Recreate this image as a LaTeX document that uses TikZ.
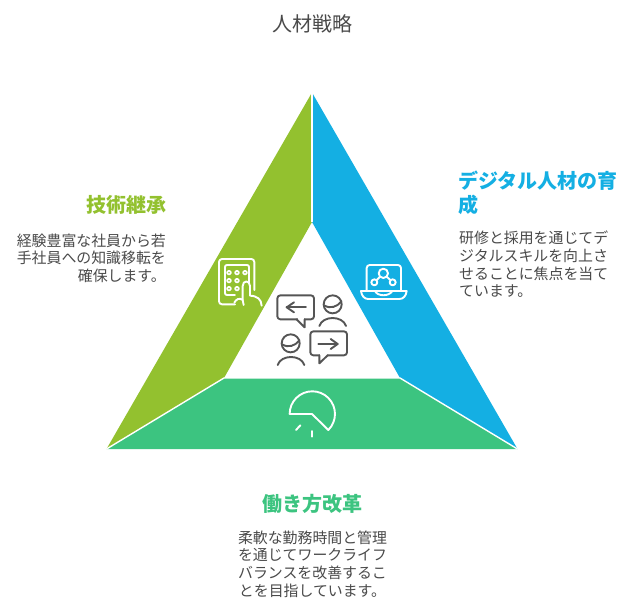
\documentclass[tikz,border=0pt]{standalone}
\usepackage{fontspec}
\setmainfont{Noto Sans CJK JP}
\definecolor{cblue}{HTML}{14AFE3}
\definecolor{cgreen}{HTML}{3CC480}
\definecolor{colive}{HTML}{93C12F}
\definecolor{ctext}{HTML}{4A4A4A}
\definecolor{cicon}{HTML}{555555}
\tikzset{
  facet/.style={draw=white,line width=1.4pt,line cap=butt},
  heading/.style={font=\fontsize{20}{24}\selectfont\bfseries,inner sep=0pt},
  bodytext/.style={font=\fontsize{14.9}{17.7}\selectfont,text=ctext,inner sep=0pt},
  whiteicon/.style={draw=white,line width=1.9pt,line cap=round,line join=round},
  greyicon/.style={draw=cicon,line width=1.9pt,line cap=round,line join=round},
  zoomed/.style={shift={(200,240)},x=0.33333pt,y=-0.33333pt}
}
\begin{document}
\begin{tikzpicture}[x=1pt,y=-1pt]
\useasboundingbox (0,0) rectangle (636,612);
\fill[white] (0,0) rectangle (636,612);
\fill[cgreen] (106.5,449) -- (224,378) -- (400,378) -- (517.5,449) -- cycle;
\fill[cblue] (312,92.5) -- (517.5,449) -- (400,378) -- (312,222) -- cycle;
\fill[colive] (312,92.5) -- (312,222) -- (224,378) -- (106.5,449) -- cycle;
\draw[facet] (312,92.5) -- (312,222);
\draw[facet] (106.5,449) -- (224,378) -- (400,378) -- (517.5,449);

\node[font=\fontsize{20}{24}\selectfont,text=ctext,inner sep=0pt] (title) at (312.5,24) {人材戦略};

\node[heading,text=colive,anchor=east] (h1) at (166.5,205) {技術継承};
\node[bodytext,align=right,anchor=north east] (b1) at (166,233.5) {経験豊富な社員から若\\手社員への知識移転を\\確保します。};

\node[heading,text=cblue,align=left,anchor=north west,font=\fontsize{20}{24}\selectfont\bfseries] (h2) at (458,171) {デジタル人材の育\\成};
\node[bodytext,align=left,anchor=north west] (b2) at (459,231) {研修と採用を通じてデ\\ジタルスキルを向上さ\\せることに焦点を当て\\ています。};

\node[heading,text=cgreen] (h3) at (312.5,504) {働き方改革};
\node[bodytext,align=center,anchor=north] (b3) at (312.5,530.5) {柔軟な勤務時間と管理\\を通じてワークライフ\\バランスを改善するこ\\とを目指しています。};

\begin{scope}[zoomed]
% tablet and hand
\draw[whiteicon,rounded corners=3pt] (105,193) -- (57,193) -- (57,57) -- (163,57) -- (163,150);
\draw[whiteicon,rounded corners=2pt] (105,165) -- (75,165) -- (75,75) -- (147,75) -- (147,128);
\foreach \px/\py in {87/98,111/98,135/98,87/122,111/122,87/146,111/146}
  \draw[whiteicon,line width=1.7pt,rounded corners=1pt] (\px-5,\py-5) rectangle (\px+5,\py+5);
\draw[whiteicon] (103,188) .. controls (108,178) and (118,172) .. (128,180) -- (128,138)
  .. controls (128,120) and (150,120) .. (150,138) -- (150,167)
  .. controls (172,168) and (184,178) .. (185,197);
\draw[whiteicon] (128,180) -- (131,195);
% laptop
\draw[whiteicon,rounded corners=3pt] (500,150) -- (500,75) -- (603,75) -- (603,150);
\draw[whiteicon] (483,153) -- (620,153) .. controls (618,168) and (610,177) .. (598,177) -- (505,177) .. controls (493,177) and (485,168) .. (483,153) -- cycle;
\draw[whiteicon] (525,153) .. controls (533,170) and (567,170) .. (577,153);
\draw[whiteicon] (550,100) circle[radius=14];
\draw[whiteicon] (523,127) circle[radius=9];
\draw[whiteicon] (578,127) circle[radius=9];
\draw[whiteicon] (540,110) -- (530,120);
\draw[whiteicon] (560,110) -- (571,120);
% people and speech bubbles
\draw[greyicon,rounded corners=3pt] (232,166) rectangle (342,238);
\draw[draw=white,line width=2.4pt,line cap=butt] (293,238) -- (312,238);
\draw[greyicon] (290,238) -- (314,262) -- (314,238);
\draw[greyicon] (318,202) -- (260,202);
\draw[greyicon] (282,187) -- (260,202) -- (282,217);
\draw[greyicon] (398,193) circle[radius=27];
\draw[greyicon] (372,196) .. controls (392,208) and (412,200) .. (424,184);
\draw[greyicon] (358,258) .. controls (368,226) and (428,226) .. (438,258);
\draw[greyicon] (272,310) circle[radius=27];
\draw[greyicon] (246,313) .. controls (266,325) and (286,317) .. (298,301);
\draw[greyicon] (233,375) .. controls (243,343) and (303,343) .. (313,375);
\draw[greyicon,rounded corners=3pt] (331,274) rectangle (441,346);
\draw[draw=white,line width=2.4pt,line cap=butt] (361,346) -- (380,346);
\draw[greyicon] (358,346) -- (358,370) -- (383,346);
\draw[greyicon] (355,312) -- (413,312);
\draw[greyicon] (392,297) -- (413,312) -- (392,327);
% clock pie
\draw[whiteicon] (385,570) arc[start angle=45,end angle=-180,radius=68] -- (336,522) -- cycle;
\draw[whiteicon] (288,570) -- (301,556);
\draw[whiteicon] (336,573) -- (336,590);
\end{scope}
\end{tikzpicture}
\end{document}
